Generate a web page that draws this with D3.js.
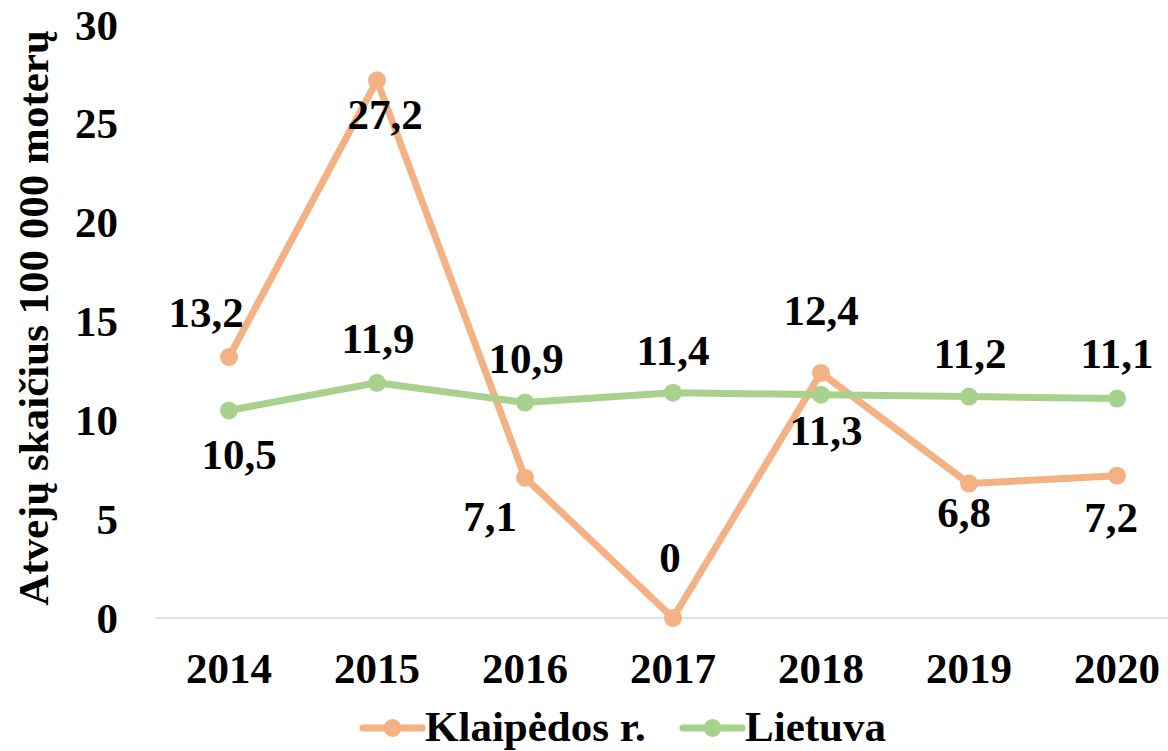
<!DOCTYPE html>
<html>
<head>
<meta charset="utf-8">
<script src="https://cdn.jsdelivr.net/npm/d3@7"></script>
<style>
  html, body { margin: 0; padding: 0; background: #fff; }
  text { font-family: 'Liberation Serif', 'Times New Roman', Times, serif; font-weight: 700; }
</style>
</head>
<body>
<div id="chart"></div>
<script>
// Chart data
const years = ['2014', '2015', '2016', '2017', '2018', '2019', '2020'];
const klaipedaValues = [13.2, 27.2, 7.1, 0, 12.4, 6.8, 7.2];
const lietuvaValues = [10.5, 11.9, 10.9, 11.4, 11.3, 11.2, 11.1];
const yTicks = [0, 5, 10, 15, 20, 25, 30];

// Manual label placement (dx, dy of baseline from the point)
const klaipedaLabelOffsets = [[-23, -30], [8, 49], [-35, 53], [-3, -46], [0, -48], [-5, 43], [-6, 56]];
const lietuvaLabelOffsets = [[10, 59], [1, -30], [1, -30], [0, -28], [5, 50], [1, -29], [0, -31]];

const width = 1168, height = 751;
const fontSize = 43;
const fontFamily = "'Liberation Serif', 'Times New Roman', Times, serif";

const svg = d3.select('#chart')
    .append('svg')
    .attr('width', width)
    .attr('height', height)
    .style('display', 'block');

// Scales
const xScale = d3.scalePoint()
    .domain(years)
    .range([155, 1191])
    .padding(0.5);

const yScale = d3.scaleLinear()
    .domain([0, 30])
    .range([618, 25]);

// Baseline axis
svg.append('line')
    .attr('x1', 155)
    .attr('x2', width)
    .attr('y1', yScale(0))
    .attr('y2', yScale(0))
    .attr('stroke', '#d9d9d9')
    .attr('stroke-width', 1.5);

function addText(sel) {
    return sel.attr('font-family', fontFamily)
        .attr('font-weight', 'bold')
        .attr('font-size', fontSize);
}

// Y tick labels
svg.selectAll('.y-tick')
    .data(yTicks)
    .enter().append('text')
    .attr('class', 'y-tick')
    .attr('x', 118)
    .attr('y', d => yScale(d))
    .attr('dy', '0.34em')
    .attr('text-anchor', 'end')
    .call(addText)
    .text(d => d);

// X tick labels
svg.selectAll('.x-tick')
    .data(years)
    .enter().append('text')
    .attr('class', 'x-tick')
    .attr('x', d => xScale(d))
    .attr('y', 683)
    .attr('text-anchor', 'middle')
    .call(addText)
    .text(d => d);

// Y axis title
svg.append('text')
    .attr('transform', 'translate(48, 318) rotate(-90)')
    .attr('text-anchor', 'middle')
    .call(addText)
    .text('Atvejų skaičius 100 000 moterų');

const series = [
    { name: 'Klaipėdos r.', values: klaipedaValues, color: '#F4B183', offsets: klaipedaLabelOffsets },
    { name: 'Lietuva', values: lietuvaValues, color: '#A9D18E', offsets: lietuvaLabelOffsets }
];

const line = d3.line()
    .x((d, i) => xScale(years[i]))
    .y(d => yScale(d));

series.forEach(s => {
    svg.append('path')
        .datum(s.values)
        .attr('d', line)
        .attr('fill', 'none')
        .attr('stroke', s.color)
        .attr('stroke-width', 7)
        .attr('stroke-linejoin', 'round');

    svg.selectAll(null)
        .data(s.values)
        .enter().append('circle')
        .attr('cx', (d, i) => xScale(years[i]))
        .attr('cy', d => yScale(d))
        .attr('r', 9)
        .attr('fill', s.color);
});

// Data labels drawn after lines so they sit on top
series.forEach(s => {
    svg.selectAll(null)
        .data(s.values)
        .enter().append('text')
        .attr('x', (d, i) => xScale(years[i]) + s.offsets[i][0])
        .attr('y', (d, i) => yScale(d) + s.offsets[i][1])
        .attr('text-anchor', 'middle')
        .call(addText)
        .text(d => String(d).replace('.', ','));
});

// Legend
const legendItems = [
    { name: 'Klaipėdos r.', color: '#F4B183', x: 363 },
    { name: 'Lietuva', color: '#A9D18E', x: 683 }
];

const legend = svg.append('g');
legendItems.forEach(item => {
    const g = legend.append('g').attr('transform', `translate(${item.x}, 728)`);
    g.append('line')
        .attr('x1', 0)
        .attr('x2', 59)
        .attr('stroke', item.color)
        .attr('stroke-width', 7)
        .attr('stroke-linecap', 'round');
    g.append('circle')
        .attr('cx', 29.5)
        .attr('r', 9)
        .attr('fill', item.color);
    g.append('text')
        .attr('x', 62)
        .attr('y', 13)
        .call(addText)
        .text(item.name);
});
</script>
</body>
</html>
